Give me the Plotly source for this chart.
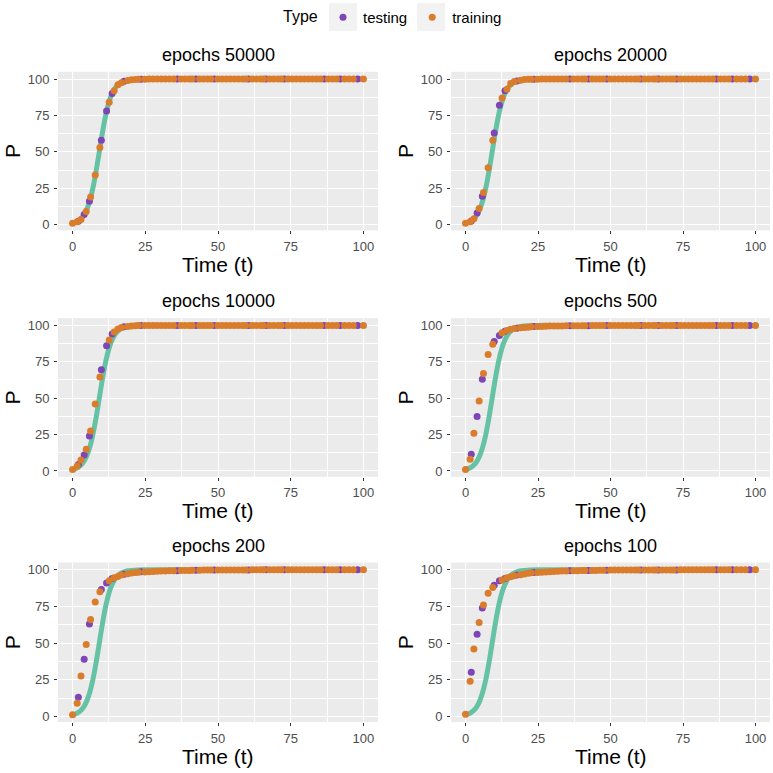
import plotly.graph_objects as go

W = 773
panel_titles = ["epochs 50000", "epochs 20000", "epochs 10000", "epochs 500", "epochs 200", "epochs 100"]

# true logistic solution
curve_t = [0, 1, 2, 3, 4, 5, 6, 7, 8, 9, 10, 11, 12, 13, 14, 15, 16, 17, 18, 19, 20, 22, 25, 30, 40, 60, 80, 100]
curve_P = [1.0, 1.6, 2.7, 4.3, 6.9, 11.0, 16.9, 25.1, 35.6, 47.6, 60.0, 71.2, 80.3, 87.1, 91.7, 94.8,
           96.8, 98.0, 98.8, 99.3, 99.6, 99.8, 100.0, 100.0, 100.0, 100.0, 100.0, 100.0]

train_t = [0, 1.6, 2.9, 4.7, 6.2, 7.8, 9.4, 12.6, 14.3, 15.6, 16.8, 19.0, 20.3, 21.6, 22.6,
           24.9, 26.3, 27.7, 29.1, 30.5, 31.9, 33.3, 34.7, 37.3, 38.7, 40.1, 41.1, 43.7, 45.0, 46.3, 47.5,
           50.0, 51.4, 52.8, 54.2, 55.6, 57.0, 58.4, 59.5, 61.8, 63.2, 64.6, 65.6, 67.8, 69.2, 70.6, 71.7,
           74.1, 75.5, 76.9, 78.3, 79.7, 81.1, 82.5, 83.9, 85.2, 87.9, 89.3, 90.7, 93.5, 95.0, 96.5, 100]
test_t = [2.0, 4.0, 5.8, 9.9, 11.7, 13.6, 17.7, 23.5, 36.0, 42.4, 48.7, 60.5, 66.5, 72.8, 86.5, 92.0, 98.0]

train_P_50000 = [1, 2, 3.5, 9, 19, 34, 53, 84, 92, 96, 97.5, 99, 99.5, 99.7, 99.8,
                 99.9, 100, 100, 100, 100, 100, 100, 100, 100, 100, 100, 100, 100, 100, 100, 100,
                 100, 100, 100, 100, 100, 100, 100, 100, 100, 100, 100, 100, 100, 100, 100, 100,
                 100, 100, 100, 100, 100, 100, 100, 100, 100, 100, 100, 100, 100, 100, 100, 100]
test_P_50000 = [2.3, 7, 16, 58, 78, 90, 98.5, 99.9, 100, 100, 100, 100, 100, 100, 100, 100, 100]

train_P_20000 = [1, 2, 4, 11, 22, 39, 58, 87, 93, 97, 98.3, 99.2, 99.6, 99.8, 99.9,
                 99.9, 100, 100, 100, 100, 100, 100, 100, 100, 100, 100, 100, 100, 100, 100, 100,
                 100, 100, 100, 100, 100, 100, 100, 100, 100, 100, 100, 100, 100, 100, 100, 100,
                 100, 100, 100, 100, 100, 100, 100, 100, 100, 100, 100, 100, 100, 100, 100, 100]
test_P_20000 = [2.5, 8, 19.5, 63, 82, 92, 98.7, 99.9, 100, 100, 100, 100, 100, 100, 100, 100, 100]

train_P_10000 = [1, 3.5, 7.5, 15, 27.5, 46, 64.5, 90, 95.5, 97.5, 98.5, 99.3, 99.6, 99.8, 99.9,
                 99.9, 100, 100, 100, 100, 100, 100, 100, 100, 100, 100, 100, 100, 100, 100, 100,
                 100, 100, 100, 100, 100, 100, 100, 100, 100, 100, 100, 100, 100, 100, 100, 100,
                 100, 100, 100, 100, 100, 100, 100, 100, 100, 100, 100, 100, 100, 100, 100, 100]
test_P_10000 = [4.5, 11, 24, 69.5, 86, 94, 99, 99.9, 100, 100, 100, 100, 100, 100, 100, 100, 100]

train_P_500 = [1, 8, 26, 48, 67, 80, 87, 95, 96.5, 97.3, 97.8, 98.3, 98.6, 98.8, 99.0,
               99.2, 99.3, 99.4, 99.5, 99.5, 99.6, 99.6, 99.7, 99.7, 99.8, 99.8, 99.8, 99.9, 99.9, 99.9, 99.9,
               100, 100, 100, 100, 100, 100, 100, 100, 100, 100, 100, 100, 100, 100, 100, 100,
               100, 100, 100, 100, 100, 100, 100, 100, 100, 100, 100, 100, 100, 100, 100, 100]
test_P_500 = [11.5, 37.5, 63, 89, 93, 96, 98, 99.2, 99.7, 99.8, 99.9, 100, 100, 100, 100, 100, 100]

train_P_200 = [1, 9, 27.5, 49, 66, 78, 85, 92.5, 94.5, 95.5, 96.5, 97.3, 97.8, 98.1, 98.3,
               98.5, 98.7, 98.9, 99.0, 99.1, 99.2, 99.3, 99.4, 99.5, 99.6, 99.6, 99.7, 99.7, 99.8, 99.8, 99.8,
               99.9, 99.9, 99.9, 99.9, 99.9, 99.9, 99.9, 99.9, 100, 100, 100, 100, 100, 100, 100, 100,
               100, 100, 100, 100, 100, 100, 100, 100, 100, 100, 100, 100, 100, 100, 100, 100]
test_P_200 = [13, 39, 63, 86.5, 91, 94, 97, 98.6, 99.4, 99.7, 99.8, 99.9, 100, 100, 100, 100, 100]

train_P_100 = [1.5, 24, 46, 64, 76, 84, 88, 93, 94.5, 95.3, 96, 96.7, 97.2, 97.6, 97.9,
               98.1, 98.3, 98.5, 98.7, 98.9, 99.0, 99.1, 99.2, 99.3, 99.4, 99.5, 99.5, 99.6, 99.6, 99.7, 99.7,
               99.8, 99.8, 99.8, 99.8, 99.8, 99.8, 99.8, 99.8, 99.9, 99.9, 99.9, 99.9, 99.9, 99.9, 99.9, 99.9,
               100, 100, 100, 100, 100, 100, 100, 100, 100, 100, 100, 100, 100, 100, 100, 100]
test_P_100 = [30, 56, 74, 89.5, 92.5, 94, 96.5, 98.1, 99.3, 99.5, 99.7, 99.8, 99.9, 99.9, 100, 100, 100]

train_sets = [train_P_50000, train_P_20000, train_P_10000, train_P_500, train_P_200, train_P_100]
test_sets = [test_P_50000, test_P_20000, test_P_10000, test_P_500, test_P_200, test_P_100]

x_ticks = [0, 25, 50, 75, 100]
y_ticks = [0, 25, 50, 75, 100]

GREEN = "#66C2A5"
ORANGE = "#D97D2C"
PURPLE = "#7D45B6"
FONT = "Liberation Sans"

# panel pixel boxes (left, right, top, bottom)
cols_px = [(58, 378), (451, 770)]
rows_px = [(72, 231), (319, 478), (564, 724)]

fig = go.Figure()
layout = dict(
    width=W, height=W, margin=dict(l=0, r=0, t=0, b=0),
    paper_bgcolor="white", plot_bgcolor="#EBEBEB",
    font=dict(family=FONT, color="black"),
    showlegend=True,
    legend=dict(orientation="h", x=323 / W, xanchor="left", y=1 - 1 / W, yanchor="top",
                font=dict(size=15, family=FONT), itemwidth=30, bgcolor="rgba(0,0,0,0)"),
)
annotations = [dict(text="Type", x=300 / W, y=1 - 17 / W, xref="paper", yref="paper", showarrow=False,
                    xanchor="center", yanchor="middle", font=dict(size=16, family=FONT, color="black"))]
shapes = []

# grey legend key backgrounds (ggplot style)
for (kx0, kx1) in [(329, 357), (417, 445)]:
    shapes.append(dict(type="rect", xref="paper", yref="paper", x0=kx0 / W, x1=kx1 / W,
                       y0=1 - 31 / W, y1=1 - 3 / W, fillcolor="#F2F2F2", line=dict(width=0), layer="below"))

for i in range(6):
    r, c = divmod(i, 2)
    idx = "" if i == 0 else str(i + 1)
    xa, ya = "x" + idx, "y" + idx
    (l, rr), (t, b) = cols_px[c], rows_px[r]
    axis_common = dict(
        showgrid=True, gridcolor="white", gridwidth=1.1, zeroline=False,
        ticks="outside", ticklen=3, tickwidth=1, tickcolor="#333333",
        tickfont=dict(size=13, color="#4D4D4D", family=FONT), showline=False,
        minor=dict(showgrid=True, gridcolor="white", gridwidth=0.5, ticks=""),
    )
    layout["xaxis" + idx] = dict(axis_common, domain=[l / W, rr / W], range=[-5, 105],
                                 tickvals=x_ticks, anchor=ya, ticklabelstandoff=1,
                                 minor=dict(axis_common["minor"], tickvals=[12.5, 37.5, 62.5, 87.5]))
    layout["yaxis" + idx] = dict(axis_common, domain=[1 - b / W, 1 - t / W], range=[-3.96, 104.95],
                                 tickvals=y_ticks, anchor=xa, ticklabelstandoff=2,
                                 minor=dict(axis_common["minor"], tickvals=[12.5, 37.5, 62.5, 87.5]))
    fig.add_trace(go.Scatter(x=curve_t, y=curve_P, mode="lines", line=dict(color=GREEN, width=5, shape="spline"),
                             xaxis=xa, yaxis=ya, showlegend=False, hoverinfo="skip"))
    fig.add_trace(go.Scatter(x=test_t, y=test_sets[i], mode="markers", name="testing",
                             marker=dict(color=PURPLE, size=7), xaxis=xa, yaxis=ya,
                             legendgroup="testing", showlegend=(i == 0)))
    fig.add_trace(go.Scatter(x=train_t, y=train_sets[i], mode="markers", name="training",
                             marker=dict(color=ORANGE, size=7), xaxis=xa, yaxis=ya,
                             legendgroup="training", showlegend=(i == 0)))
    # panel title
    annotations.append(dict(text=panel_titles[i], x=(l + rr) / 2 / W, y=1 - (t - 17) / W,
                            xref="paper", yref="paper", showarrow=False, xanchor="center", yanchor="middle",
                            font=dict(size=18, family=FONT, color="black")))
    annotations.append(dict(text="Time (t)", x=(l + rr) / 2 / W, y=1 - (b + 34) / W,
                            xref="paper", yref="paper", showarrow=False, xanchor="center", yanchor="middle",
                            font=dict(size=21, family=FONT, color="black")))
    annotations.append(dict(text="P", x=(l - 46) / W, y=1 - (t + b) / 2 / W, textangle=-90,
                            xref="paper", yref="paper", showarrow=False, xanchor="center", yanchor="middle",
                            font=dict(size=21, family=FONT, color="black")))

layout["annotations"] = annotations
layout["shapes"] = shapes
fig.update_layout(**layout)
fig.write_html("out.html")
